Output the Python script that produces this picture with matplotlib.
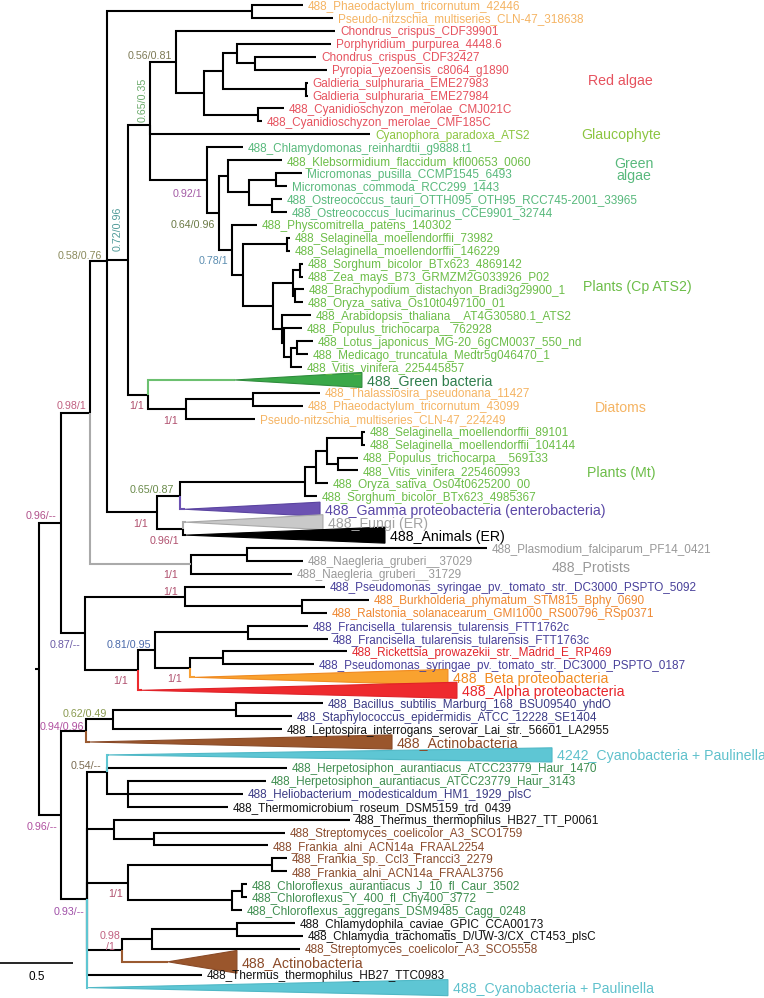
import matplotlib.pyplot as plt
from matplotlib.patches import Polygon

plt.rcParams['font.family'] = ['Liberation Sans', 'DejaVu Sans']

# ---- tips, top to bottom (one row each) ----
tip_names = [
    '488_Phaeodactylum_tricornutum_42446', 'Pseudo-nitzschia_multiseries_CLN-47_318638',
    'Chondrus_crispus_CDF39901', 'Porphyridium_purpurea_4448.6', 'Chondrus_crispus_CDF32427',
    'Pyropia_yezoensis_c8064_g1890', 'Galdieria_sulphuraria_EME27983', 'Galdieria_sulphuraria_EME27984',
    '488_Cyanidioschyzon_merolae_CMJ021C', '488_Cyanidioschyzon_merolae_CMF185C',
    'Cyanophora_paradoxa_ATS2', '488_Chlamydomonas_reinhardtii_g9888.t1',
    '488_Klebsormidium_flaccidum_kfl00653_0060', 'Micromonas_pusilla_CCMP1545_6493',
    'Micromonas_commoda_RCC299_1443', '488_Ostreococcus_tauri_OTTH095_OTH95_RCC745-2001_33965',
    '488_Ostreococcus_lucimarinus_CCE9901_32744', '488_Physcomitrella_patens_140302',
    '488_Selaginella_moellendorffii_73982', '488_Selaginella_moellendorffii_146229',
    '488_Sorghum_bicolor_BTx623_4869142', '488_Zea_mays_B73_GRMZM2G033926_P02',
    '488_Brachypodium_distachyon_Bradi3g29900_1', '488_Oryza_sativa_Os10t0497100_01',
    '488_Arabidopsis_thaliana__AT4G30580.1_ATS2', '488_Populus_trichocarpa__762928',
    '488_Lotus_japonicus_MG-20_6gCM0037_550_nd', '488_Medicago_truncatula_Medtr5g046470_1',
    '488_Vitis_vinifera_225445857', '488_Green bacteria',
    '488_Thalassiosira_pseudonana_11427', '488_Phaeodactylum_tricornutum_43099',
    'Pseudo-nitzschia_multiseries_CLN-47_224249', '488_Selaginella_moellendorffii_89101',
    '488_Selaginella_moellendorffii_104144', '488_Populus_trichocarpa__569133',
    '488_Vitis_vinifera_225460993', '488_Oryza_sativa_Os04t0625200_00',
    '488_Sorghum_bicolor_BTx623_4985367', '488_Gamma proteobacteria (enterobacteria)',
    '488_Fungi (ER)', '488_Animals (ER)', '488_Plasmodium_falciparum_PF14_0421',
    '488_Naegleria_gruberi__37029', '488_Naegleria_gruberi__31729',
    '488_Pseudomonas_syringae_pv._tomato_str._DC3000_PSPTO_5092',
    '488_Burkholderia_phymatum_STM815_Bphy_0690',
    '488_Ralstonia_solanacearum_GMI1000_RS00796_RSp0371',
    '488_Francisella_tularensis_tularensis_FTT1762c', '488_Francisella_tularensis_tularensis_FTT1763c',
    '488_Rickettsia_prowazekii_str._Madrid_E_RP469',
    '488_Pseudomonas_syringae_pv._tomato_str._DC3000_PSPTO_0187',
    '488_Beta proteobacteria', '488_Alpha proteobacteria',
    '488_Bacillus_subtilis_Marburg_168_BSU09540_yhdO', '488_Staphylococcus_epidermidis_ATCC_12228_SE1404',
    '488_Leptospira_interrogans_serovar_Lai_str._56601_LA2955', '488_Actinobacteria',
    '4242_Cyanobacteria + Paulinella', '488_Herpetosiphon_aurantiacus_ATCC23779_Haur_1470',
    '488_Herpetosiphon_aurantiacus_ATCC23779_Haur_3143', '488_Heliobacterium_modesticaldum_HM1_1929_plsC',
    '488_Thermomicrobium_roseum_DSM5159_trd_0439', '488_Thermus_thermophilus_HB27_TT_P0061',
    '488_Streptomyces_coelicolor_A3_SCO1759', '488_Frankia_alni_ACN14a_FRAAL2254',
    '488_Frankia_sp._Ccl3_Francci3_2279', '488_Frankia_alni_ACN14a_FRAAL3756',
    '488_Chloroflexus_aurantiacus_J_10_fl_Caur_3502', '488_Chloroflexus_Y_400_fl_Chy400_3772',
    '488_Chloroflexus_aggregans_DSM9485_Cagg_0248', '488_Chlamydophila_caviae_GPIC_CCA00173',
    '488_Chlamydia_trachomatis_D/UW-3/CX_CT453_plsC', '488_Streptomyces_coelicolor_A3_SCO5558',
    '488_Actinobacteria', '488_Thermus_thermophilus_HB27_TTC0983', '488_Cyanobacteria + Paulinella',
]

# distance from root (substitutions/site) of each tip
tip_depth = [
    1.808, 2.014, 2.027, 2.000, 1.897, 1.973, 1.842, 1.842, 1.678, 1.527,   # 0-9
    2.267, 1.397, 1.664, 1.801, 1.699, 1.664, 1.699, 1.493, 1.719, 1.719,   # 10-19
    1.808, 1.808, 1.815, 1.808, 1.863, 1.801, 1.877, 1.842, 1.801, 2.212,   # 20-29
    1.925, 1.808, 1.479, 2.233, 2.233, 2.185, 2.185, 1.979, 1.904, 1.925,   # 30-39
    1.945, 2.370, 3.068, 1.808, 1.733, 1.959, 2.260, 1.973, 1.842, 1.979,   # 40-49
    2.110, 1.884, 2.801, 2.863, 1.945, 1.733, 1.664, 2.418, 3.514, 1.699,   # 50-59
    1.555, 1.397, 1.295, 2.130, 1.685, 1.568, 1.699, 1.699, 1.425, 1.425,   # 60-69
    1.390, 1.753, 1.808, 1.788, 1.356, 1.116, 2.801,                        # 70-76
]

tip_group = (['dia'] * 2 + ['red'] * 8 + ['glau', 'chl', 'pla'] + ['chl'] * 4 + ['pla'] * 12
             + ['gbac'] + ['dia'] * 3 + ['pla'] * 6 + ['gamT', 'fungi', 'animal'] + ['prot'] * 3
             + ['gam', 'beta', 'beta', 'gam', 'gam', 'alpha', 'gam', 'betaT', 'alphaT']
             + ['firm', 'firm', 'blk', 'actT', 'cyanT', 'chlx', 'chlx', 'firm', 'blk', 'blk']
             + ['act'] * 4 + ['chlx'] * 3 + ['blk', 'blk', 'act', 'actT', 'blk', 'cyanT'])

# collapsed clades: tip index, depth of clade root, half height (rows)
collapsed_idx = [29, 39, 40, 41, 52, 53, 57, 58, 74, 76]
collapsed_start = [1.342, 1.000, 1.007, 1.007, 1.068, 0.705, 0.349, 0.479, 0.884, 0.336]
collapsed_half = [0.58, 0.55, 0.58, 0.62, 0.62, 0.62, 0.55, 0.55, 0.88, 0.62]

# internal nodes: name, depth, children (int = tip row, str = node)
node_names = ['nDiaA', 'nRed5', 'nRed4', 'nGald', 'nRed3', 'nCyd', 'nRed2', 'nRed',
              'nMic', 'nOst', 'nMam', 'nKle', 'nSel', 'nSZ', 'nBO', 'nGrass', 'nLM', 'nLMV',
              'nPop', 'nAra', 'nAng', 'nLand2', 'nLand', 'nViri2', 'nViri', 'nArch',
              'nDiaB2', 'nDiaB', 'nGbD', 'nPlast', 'nSelM', 'nPV', 'nMt3', 'nMt2', 'nMt',
              'nMtG', 'nER', 'nMit', 'nEuk', 'nNae2', 'nProt', 'nEuk2', 'nBR', 'nPsB',
              'nFra', 'nRP', 'nBeta', 'nFB', 'nAlp', 'nProteo', 'nUp', 'nBS', 'nFirm',
              'nFirmA', 'nHT', 'nCy1', 'nSF', 'nTSF', 'nFrk', 'nChl2', 'nChl', 'nFC',
              'nChm', 'nChS', 'nAct2', 'nLow2', 'nLow', 'root']
node_depth = [1.459, 1.479, 1.356, 1.829, 1.260, 1.500, 1.130, 0.938,
              1.623, 1.596, 1.438, 1.295, 1.699, 1.788, 1.753, 1.740, 1.767, 1.726,
              1.678, 1.664, 1.603, 1.397, 1.322, 1.233, 1.151, 0.760,
              1.466, 1.007, 0.747, 0.610, 2.212, 2.048, 1.973, 1.897, 1.822,
              0.966, 0.986, 0.808, 0.466, 1.425, 1.041, 0.349, 1.801, 1.000,
              1.432, 1.260, 1.034, 0.795, 0.678, 0.315, 0.151, 1.349, 0.507,
              0.322, 0.610, 0.466, 0.788, 0.514, 1.596, 1.390, 1.322, 0.610,
              1.356, 0.774, 0.568, 0.329, 0.151, 0.0]
node_children = [[0, 1], [4, 5], [3, 'nRed5'], [6, 7], ['nRed4', 'nGald'], [8, 9],
                 ['nRed3', 'nCyd'], [2, 'nRed2'],
                 [13, 14], [15, 16], ['nMic', 'nOst'], [12, 'nMam'], [18, 19], [20, 21],
                 [22, 23], ['nSZ', 'nBO'], [26, 27], ['nLM', 28],
                 [25, 'nLMV'], [24, 'nPop'], ['nGrass', 'nAra'], ['nSel', 'nAng'],
                 [17, 'nLand2'], ['nKle', 'nLand'], [11, 'nViri2'], ['nRed', 10, 'nViri'],
                 [30, 31], ['nDiaB2', 32], [29, 'nDiaB'], ['nArch', 'nGbD'], [33, 34],
                 [35, 36], ['nSelM', 'nPV'], ['nMt3', 37], ['nMt2', 38],
                 ['nMt', 39], [40, 41], ['nMtG', 'nER'], ['nDiaA', 'nPlast', 'nMit'],
                 [42, 43], ['nNae2', 44], ['nEuk', 'nProt'], [46, 47], [45, 'nBR'],
                 [48, 49], [50, 51], ['nRP', 52], ['nFra', 'nBeta'], ['nFB', 53],
                 ['nPsB', 'nAlp'], ['nEuk2', 'nProteo'], [54, 55], ['nBS', 56],
                 ['nFirm', 57], [60, 61, 62], [58, 59, 'nHT'], [64, 65], [63, 'nSF'],
                 [66, 67], [68, 69], ['nChl2', 70], ['nFrk', 'nChl'],
                 [71, 72], ['nChm', 73], ['nChS', 74], ['nCy1', 'nTSF', 'nFC', 'nAct2', 75, 76],
                 ['nFirmA', 'nLow2'], ['nUp', 'nLow']]

# support values (posterior / bootstrap) as printed beside nodes
support_text = ['0.56/0.81', '0.65/0.35', '0.72/0.96', '0.92/1', '0.64/0.96', '0.78/1',
                '0.58/0.76', '1/1', '1/1', '0.98/1', '0.65/0.87', '0.96/--', '1/1',
                '0.96/1', '1/1', '1/1', '0.87/--', '0.81/0.95', '1/1', '1/1',
                '0.62/0.49', '0.94/0.96', '0.54/--', '0.96/--', '1/1', '0.93/--',
                '0.98', '/1']

group_labels = ['Red algae', 'Glaucophyte', 'Green\nalgae', 'Plants (Cp ATS2)',
                'Diatoms', 'Plants (Mt)', '488_Protists']

# ---- styles ----
label_color = {'dia': '#f5b463', 'red': '#e6525e', 'glau': '#8cc540', 'chl': '#58b97c',
               'pla': '#6cbd48', 'gbac': '#2f7d4c', 'gamT': '#5a47a6', 'fungi': '#a3a3a3',
               'animal': '#000000', 'prot': '#999999', 'gam': '#48409a', 'beta': '#ee8730',
               'alpha': '#e2262c', 'betaT': '#f08a20', 'alphaT': '#e8242a', 'firm': '#3b3b85',
               'blk': '#111111', 'actT': '#8b4a28', 'cyanT': '#5fc1cc', 'chlx': '#3e8d4f',
               'act': '#8a4b2c'}
tri_fill = {29: '#3aa848', 39: '#6c52b2', 40: '#c9c9c9', 41: '#000000', 52: '#f9a22f',
            53: '#ee2a2e', 57: '#9a562c', 58: '#5ec6d4', 74: '#9a562c', 76: '#5ec6d4'}
tri_edge = {29: '#2f8c3c', 39: '#5a44a0', 40: '#a8a8a8', 41: '#000000', 52: '#f08a20',
            53: '#e02228', 57: '#8a4b28', 58: '#4fb8c6', 74: '#8a4b28', 76: '#4fb8c6'}
branch_color = {29: '#6cc070', 39: '#6c52b2', 40: '#aaaaaa', 'nProt': '#aaaaaa',
                52: '#f7a035', 53: '#ec2a2e', 57: '#9a5a30', 58: '#5fc6d2',
                74: '#9a5a30', 76: '#5fc6d2'}

# position (pixels of the original figure) and colour of support labels
support_pos = [(128, 55), (143, 100), (118, 229), (173, 193), (171, 224), (199, 260),
               (58, 255), (129, 405), (163, 420), (57, 405), (130, 489), (26, 515), (133, 523),
               (150, 540), (163, 574), (163, 591), (50, 644), (107, 644), (113, 680), (167, 678),
               (63, 713), (40, 726), (71, 765), (27, 826), (108, 893), (54, 911),
               (100, 935), (106, 946)]
support_rot = [0, 90, 90] + [0] * 25
support_color = ['#7d7a55', '#6aaa6a', '#4f9a98', '#a35aa5', '#6b7a45', '#5b8db0',
                 '#8a8a5c', '#b0506e', '#b0506e', '#c06080', '#6a8a4a', '#b0508a', '#b0506e',
                 '#b0506e', '#b0506e', '#b0506e', '#6a5aa5', '#4a6aaa', '#b0506e', '#b0506e',
                 '#8a9a50', '#b050a0', '#7a6a50', '#b050a0', '#b0506e', '#a050a8',
                 '#c06080', '#c06080']
group_pos = [(588, 79), (581, 134), (634, 170), (583, 286), (595, 406), (587, 472), (552, 566)]
group_color = ['#e6525e', '#8cc540', '#58b97c', '#6cbd48', '#f5b463', '#6cbd48', '#999999']

W, H = 764, 998
fig = plt.figure(figsize=(W / 100, H / 100), dpi=100)
ax = fig.add_axes([0, 0, 1, 1])
ax.set_xlim(-0.267, 4.966)
ax.set_ylim(76.8, -0.387)
ax.axis('off')

node_index = {n: i for i, n in enumerate(node_names)}
node_y = {}


def y_of(c):
    # tips sit on their row, a node at the mean of its children
    if isinstance(c, int):
        return c
    if c not in node_y:
        ys = [y_of(k) for k in node_children[node_index[c]]]
        node_y[c] = sum(ys) / len(ys)
    return node_y[c]


def x_of(c):
    if isinstance(c, int):
        if c in collapsed_idx:
            return collapsed_start[collapsed_idx.index(c)]
        return tip_depth[c]
    return node_depth[node_index[c]]


LW = 1.5
for name, d, kids in zip(node_names, node_depth, node_children):
    py = y_of(name)
    for k in kids:
        col = branch_color.get(k, 'black')
        z = 3 if k in branch_color else 2
        ky = y_of(k)
        ax.plot([d, d, x_of(k)], [py, ky, ky], color=col, lw=LW,
                solid_capstyle='butt', solid_joinstyle='miter', zorder=z)

# root stub
ax.plot([-0.027, 0], [y_of('root')] * 2, color='black', lw=LW, solid_capstyle='butt')

# collapsed triangles
for i, s, h in zip(collapsed_idx, collapsed_start, collapsed_half):
    e = tip_depth[i]
    ax.add_patch(Polygon([(s, i), (e, i - h), (e, i + h)], closed=True,
                         fc=tri_fill[i], ec=tri_edge[i], lw=0.8, zorder=4))

# tip labels
for i, (nm, d, g) in enumerate(zip(tip_names, tip_depth, tip_group)):
    big = i in collapsed_idx
    ax.text(d + 0.034, i, nm, color=label_color[g], fontsize=10.2 if big else 8.5,
            ha='left', va='center_baseline', zorder=5)

# support values
for txt, (px, py), rot, col in zip(support_text, support_pos, support_rot, support_color):
    ax.text(px / W, 1 - py / H, txt, transform=ax.transAxes, color=col, fontsize=7.7,
            rotation=rot, ha='center' if rot else 'left',
            va='center' if rot else 'center_baseline')

# group labels
for txt, (px, py), col in zip(group_labels, group_pos, group_color):
    multi = '\n' in txt
    ax.text(px / W, 1 - py / H, txt, transform=ax.transAxes, color=col, fontsize=10.2,
            ha='center' if multi else 'left', va='center' if multi else 'center_baseline',
            linespacing=0.75, multialignment='center')

# scale bar
sb_y = (963 - 5) / 12.93
ax.plot([-0.267, -0.267 + 0.5], [sb_y, sb_y], color='black', lw=1.2, solid_capstyle='butt')
ax.text(-0.267 + 0.25, sb_y + 0.95, '0.5', ha='center', va='center_baseline', fontsize=8.5)

fig.savefig('out.png', dpi=100)
